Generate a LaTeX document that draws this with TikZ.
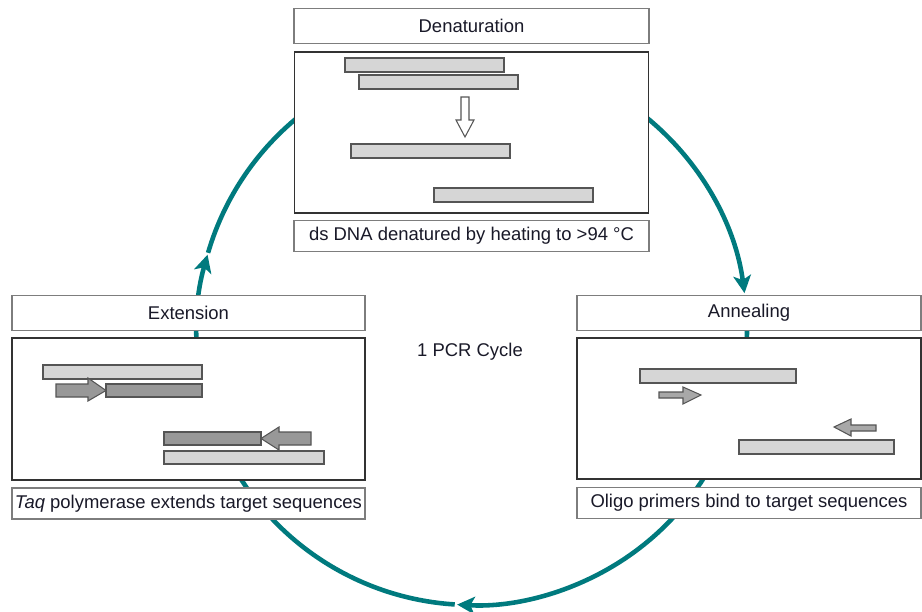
\documentclass[tikz,border=0pt]{standalone}
\usepackage{fontspec}
\setmainfont{Liberation Sans}
\usetikzlibrary{arrows.meta,positioning,calc}
\definecolor{cycleteal}{RGB}{0,122,126}
\definecolor{boxline}{RGB}{125,125,125}
\definecolor{panelline}{RGB}{50,50,50}
\definecolor{strandlight}{RGB}{214,214,214}
\definecolor{stranddark}{RGB}{152,152,152}
\definecolor{primerfill}{RGB}{168,168,168}
\definecolor{strandline}{RGB}{85,85,85}
\definecolor{labeltext}{RGB}{25,25,40}
\tikzset{
  titlebox/.style={rectangle,draw=boxline,fill=white,line width=0.8pt,
                   minimum width=#1,minimum height=0.70cm,inner sep=0pt,
                   font=\fontsize{10.5}{12}\selectfont,text=labeltext},
  panel/.style={rectangle,draw=panelline,fill=white,line width=0.9pt,
                minimum width=#1,inner sep=0pt},
  capbox/.style={rectangle,draw=boxline,fill=white,line width=0.8pt,
                 minimum width=#1,minimum height=0.62cm,inner sep=0pt,
                 font=\fontsize{10.5}{12}\selectfont,text=labeltext},
  strand/.style={draw=strandline,fill=strandlight,line width=0.6pt},
  newstrand/.style={draw=strandline,fill=stranddark,line width=0.6pt},
  primer/.style={draw=strandline,fill=primerfill,line width=0.6pt},
  cyclearrow/.style={-{Stealth[length=10pt,width=10pt,inset=2.5pt]},
                     line width=2.6pt,cycleteal},
}
\begin{document}
\begin{tikzpicture}
  \useasboundingbox (0,0) rectangle (18.44,-12.24);
  \coordinate (C) at (9.44,-6.6);

  % the cycle, behind the boxes
  \draw[cyclearrow] ([shift={(55:5.5)}]C) arc[start angle=55,end angle=7.7,radius=5.5];
  \draw[cyclearrow] ([shift={(3:5.5)}]C) arc[start angle=3,end angle=-93.1,radius=5.5];
  \draw[cyclearrow] ([shift={(-93.6:5.5)}]C) arc[start angle=-93.6,end angle=-195.9,radius=5.5];
  \draw[line width=2.6pt,cycleteal] ([shift={(163.7:5.5)}]C) arc[start angle=163.7,end angle=125,radius=5.5];

  % Denaturation
  \node[titlebox=7.1cm] (dtitle) at (9.43,-0.52) {Denaturation};
  \node[panel=7.08cm,minimum height=3.22cm,below=0.14cm of dtitle] (dpanel) {};
  \node[capbox=7.1cm,below=0.12cm of dpanel] (dcap) {ds DNA denatured by heating to >94 °C};

  % Extension
  \node[titlebox=7.06cm] (etitle) at (3.77,-6.26) {Extension};
  \node[panel=7.06cm,minimum height=2.84cm,below=0.12cm of etitle] (epanel) {};
  \node[capbox=7.06cm,below=0.13cm of epanel] (ecap) {\textit{Taq} polymerase extends target sequences};

  % Annealing
  \node[titlebox=6.88cm] (atitle) at (14.98,-6.26) {Annealing};
  \node[panel=6.88cm,minimum height=2.82cm,below=0.12cm of atitle] (apanel) {};
  \node[capbox=6.88cm,below=0.14cm of apanel] (acap) {Oligo primers bind to target sequences};

  \node[font=\fontsize{10.5}{12}\selectfont,text=labeltext] (pcrlabel) at (9.40,-7.04) {1 PCR Cycle};

  % strands: double stranded, then melted apart
  \draw[strand] (6.90,-1.16) rectangle (10.08,-1.44);
  \draw[strand] (7.18,-1.50) rectangle (10.36,-1.78);
  \draw[draw=strandline,fill=white,line width=0.6pt]
    (9.22,-1.94) -- (9.38,-1.94) -- (9.38,-2.40) -- (9.48,-2.40)
    -- (9.30,-2.74) -- (9.12,-2.40) -- (9.22,-2.40) -- cycle;
  \draw[strand] (7.02,-2.88) rectangle (10.20,-3.16);
  \draw[strand] (8.68,-3.76) rectangle (11.86,-4.04);

  % primers on the templates
  \draw[strand] (12.80,-7.38) rectangle (15.92,-7.66);
  \draw[primer] (13.18,-7.84) -- (13.66,-7.84) -- (13.66,-7.74) -- (14.02,-7.90)
    -- (13.66,-8.08) -- (13.66,-7.96) -- (13.18,-7.96) -- cycle;
  \draw[primer] (17.52,-8.50) -- (17.02,-8.50) -- (17.02,-8.38) -- (16.68,-8.54)
    -- (17.02,-8.72) -- (17.02,-8.62) -- (17.52,-8.62) -- cycle;
  \draw[strand] (14.78,-8.80) rectangle (17.88,-9.08);

  % extended primers
  \draw[strand] (0.86,-7.30) rectangle (4.04,-7.58);
  \draw[newstrand] (2.12,-7.68) rectangle (4.04,-7.94);
  \draw[newstrand] (1.12,-7.68) -- (1.76,-7.68) -- (1.76,-7.56) -- (2.12,-7.81)
    -- (1.76,-8.02) -- (1.76,-7.94) -- (1.12,-7.94) -- cycle;
  \draw[newstrand] (3.28,-8.64) rectangle (5.22,-8.90);
  \draw[newstrand] (6.22,-8.64) -- (5.58,-8.64) -- (5.58,-8.54) -- (5.22,-8.77)
    -- (5.58,-9.00) -- (5.58,-8.90) -- (6.22,-8.90) -- cycle;
  \draw[strand] (3.28,-9.02) rectangle (6.48,-9.28);
\end{tikzpicture}
\end{document}
